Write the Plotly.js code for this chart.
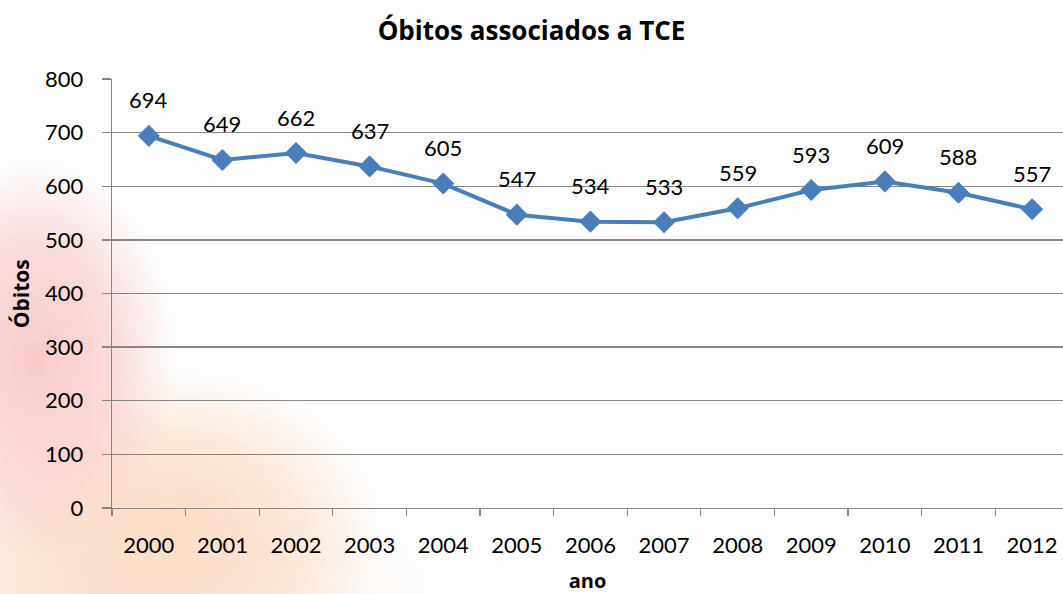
<!DOCTYPE html>
<html><head><meta charset="utf-8">
<script src="https://cdn.plot.ly/plotly-3.0.1.min.js"></script>
<style>
html,body{margin:0;padding:0;}
body{width:1063px;height:594px;overflow:hidden;
background:
 radial-gradient(ellipse 140px 200px at 35px 360px, rgba(248,200,200,0.95) 0%, rgba(248,205,205,0.7) 55%, rgba(248,210,210,0) 100%),
 radial-gradient(ellipse 210px 160px at 170px 530px, rgba(251,220,196,0.95) 0%, rgba(251,224,203,0.7) 55%, rgba(251,230,212,0) 100%),
 radial-gradient(ellipse 320px 130px at 110px 594px, rgba(251,228,210,0.85), rgba(251,230,212,0) 100%),
 #fdfdfd;}
#chart{width:1063px;height:594px;}
</style></head>
<body><div id="chart"></div>
<script>
const anos = ['2000','2001','2002','2003','2004','2005','2006','2007','2008','2009','2010','2011','2012'];
const obitos = [694,649,662,637,605,547,534,533,559,593,609,588,557];
const yTicks = [0,100,200,300,400,500,600,700,800];

const fnt = 'Lato, "Open Sans", sans-serif';
const bfnt = '"Open Sans", Lato, sans-serif';
const trace = {
  x: anos, y: obitos, type:'scatter', mode:'lines+markers',
  line:{color:'#4a7ebb', width:4},
  marker:{symbol:'diamond', size:17, color:'#4a7ebb'},
  hoverinfo:'skip', cliponaxis:false
};
const annotations = anos.map((a,i)=>({x:i, y:obitos[i], xref:'x', yref:'y', text:String(obitos[i]), showarrow:false,
  yshift:36, font:{family:fnt, size:22, color:'#000'}}));
annotations.push({xref:'paper', yref:'paper', x:-0.096, y:0.5, xanchor:'center', yanchor:'middle', text:'<b>Óbitos</b>', textangle:-90,
  showarrow:false, font:{family:bfnt, size:21, color:'#000'}});
const layout = {
  width:1063, height:594,
  paper_bgcolor:'rgba(0,0,0,0)', plot_bgcolor:'rgba(0,0,0,0)',
  margin:{l:112, r:0, t:79, b:86},
  showlegend:false,
  title:{text:'<b>Óbitos associados a TCE</b>', x:0.5, xanchor:'center', y:0.948, yanchor:'middle',
    font:{family:bfnt, size:26, color:'#000'}},
  xaxis:{type:'category', range:[-0.5, 12.42], tickson:'boundaries', ticks:'outside', ticklen:7,
    tickcolor:'#868686', tickwidth:1.3, showline:true, linecolor:'#868686', linewidth:1.3,
    showgrid:false, ticklabelstandoff:17, tickfont:{family:fnt, size:22, color:'#000'},
    title:{text:'<b>ano</b>', standoff:17, font:{family:bfnt, size:20, color:'#000'}}, fixedrange:true},
  yaxis:{range:[0,800], tickvals:yTicks, ticks:'outside', ticklen:9, tickcolor:'#868686', tickwidth:1.3,
    showline:true, linecolor:'#868686', linewidth:1.3, gridcolor:'#868686', gridwidth:1.3,
    zeroline:false, ticklabelstandoff:14, tickfont:{family:fnt, size:22, color:'#000'}, fixedrange:true},
  annotations: annotations
};
Plotly.newPlot('chart',[trace],layout,{displayModeBar:false, staticPlot:true});
</script></body></html>
